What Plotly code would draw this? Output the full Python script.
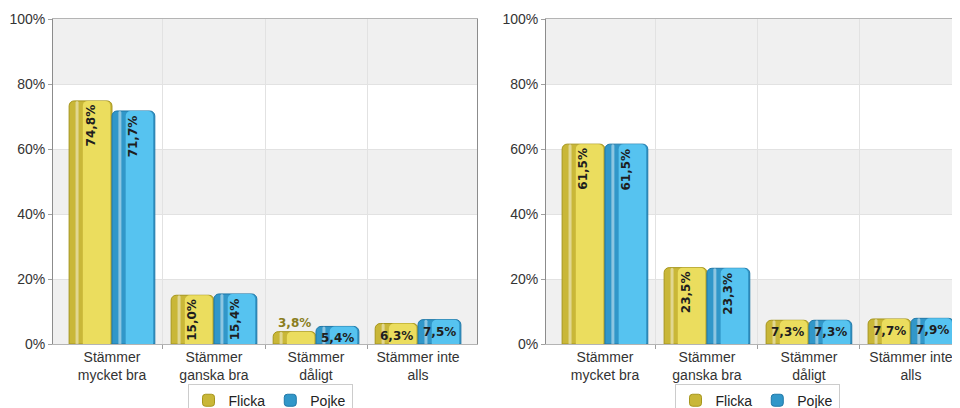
import plotly.graph_objects as go

categories = ["Stämmer<br>mycket bra", "Stämmer<br>ganska bra", "Stämmer<br>dåligt", "Stämmer inte<br>alls"]
series_names = ["Flicka", "Pojke"]
left_flicka = [74.8, 15.0, 3.8, 6.3]
left_pojke = [71.7, 15.4, 5.4, 7.5]
right_flicka = [61.5, 23.5, 7.3, 7.7]
right_pojke = [61.5, 23.3, 7.3, 7.9]
y_ticks = [0, 20, 40, 60, 80, 100]
y_tick_labels = ["0%", "20%", "40%", "60%", "80%", "100%"]

base_colors = ["#c9b738", "#3197c9"]
bright_colors = ["#ebdd5e", "#56c3f0"]
line_colors = ["#a6961c", "#1f78a8"]
outside_colors = ["#8a7d1c", "#1f6f9a"]

BARGAP = 0.16
BW = (1 - BARGAP) / 2
xpos = list(range(len(categories)))

fig = go.Figure()

charts = [
    ("x", "y", "legend", [left_flicka, left_pojke]),
    ("x2", "y2", "legend2", [right_flicka, right_pojke]),
]

annotations = []
for xa, ya, lg, series in charts:
    for s, vals in enumerate(series):
        off = -BW if s == 0 else 0.0
        # main bar (darker shade, with outline)
        fig.add_trace(go.Bar(
            x=xpos, y=vals, name=series_names[s], xaxis=xa, yaxis=ya, legend=lg,
            width=BW, offset=off,
            marker=dict(color=base_colors[s], line=dict(color=line_colors[s], width=1)),
            hoverinfo="skip",
        ))
        # brighter right part of the bar
        fig.add_trace(go.Bar(
            x=xpos, y=vals, xaxis=xa, yaxis=ya, showlegend=False,
            width=BW * 0.64, offset=off + BW * 0.32,
            marker=dict(color=bright_colors[s], line=dict(width=0)),
            hoverinfo="skip",
        ))
        # glossy highlight stripe
        fig.add_trace(go.Bar(
            x=xpos, y=vals, xaxis=xa, yaxis=ya, showlegend=False,
            width=BW * 0.07, offset=off + BW * 0.15,
            marker=dict(color="rgba(255,255,255,0.45)", line=dict(width=0)),
            hoverinfo="skip",
        ))
        cx = off + BW / 2
        for i, v in enumerate(vals):
            txt = f"{v:.1f}".replace(".", ",") + "%"
            a = dict(x=i + cx, y=v, xref=xa, yref=ya, text=txt, showarrow=False,
                     font=dict(family="DejaVu Sans", size=12, color="#1e1e1e", weight="bold"))
            if v >= 10:
                a.update(textangle=-90, yanchor="top", yshift=-2)
            elif v >= 5:
                a.update(textangle=0, yanchor="top", yshift=-3)
            else:
                a.update(textangle=0, yanchor="bottom", yshift=0,
                         font=dict(family="DejaVu Sans", size=12, color=outside_colors[s], weight="bold"))
            annotations.append(a)

# alternating background bands
shapes = []
for xa, ya in [("x", "y"), ("x2", "y2")]:
    for k in range(0, len(y_ticks) - 1, 2):
        shapes.append(dict(type="rect", xref=f"{xa} domain", yref=ya, x0=0, x1=1,
                           y0=y_ticks[k], y1=y_ticks[k + 1], fillcolor="#f0f0f0",
                           line=dict(width=0), layer="below"))

xcommon = dict(
    tickmode="array", tickvals=xpos, ticktext=categories, ticks="", showgrid=False,
    zeroline=False, showline=True, linecolor="#b4b4b4", linewidth=1, mirror=True,
    tickfont=dict(family="Liberation Sans", size=14, color="#333333"),
    ticklabelstandoff=0,
    minor=dict(tickmode="array", tickvals=[0.5, 1.5, 2.5], showgrid=True, gridcolor="#e2e2e2",
               gridwidth=1, ticks="outside", ticklen=4, tickcolor="#a0a0a0"),
    fixedrange=True,
)
ycommon = dict(
    range=[0, 100], tickmode="array", tickvals=y_ticks, ticktext=y_tick_labels, showgrid=True,
    gridcolor="#e2e2e2", gridwidth=1, zeroline=False, showline=True, linecolor="#8c8c8c",
    linewidth=1, ticks="outside", ticklen=4, tickcolor="#a0a0a0",
    tickfont=dict(family="Liberation Sans", size=14, color="#333333"),
    fixedrange=True,
)

legend_common = dict(orientation="h", xanchor="center", y=-0.122, yanchor="top",
                     bordercolor="#cccccc", borderwidth=1, bgcolor="white",
                     font=dict(family="Liberation Sans", size=14, color="#222222"))

fig.update_layout(
    width=952, height=400,
    margin=dict(l=45, r=0, t=11, b=64, autoexpand=False),
    paper_bgcolor="white", plot_bgcolor="white",
    barmode="overlay", barcornerradius=5,
    xaxis=dict(xcommon, domain=[0, 424 / 907], range=[-0.578, 3.578], anchor="y"),
    yaxis=dict(ycommon, anchor="x", mirror=True),
    xaxis2=dict(xcommon, domain=[493 / 907, 1], range=[-0.578, 3.481], anchor="y2"),
    yaxis2=dict(ycommon, anchor="x2", mirror=False),
    legend=dict(legend_common, x=(270 - 53) / 907),
    legend2=dict(legend_common, x=(757 - 53) / 907),
    shapes=shapes,
    annotations=annotations,
    showlegend=True,
)

fig.write_html("out.html")
